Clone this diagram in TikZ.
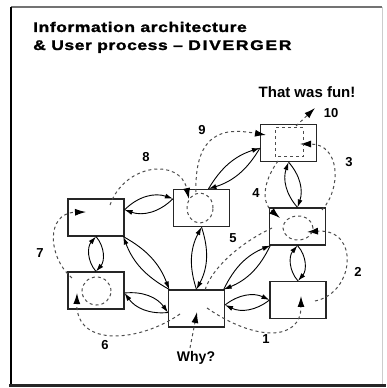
\documentclass[tikz,border=0pt]{standalone}
\usepackage{fontspec}
\setmainfont{Liberation Sans}
\newfontfamily\headfont[FakeStretch=1.25,LetterSpace=4,FakeBold=1.5]{Liberation Sans}
\usetikzlibrary{arrows.meta}

\begin{document}
\begin{tikzpicture}[x=1pt,y=1pt,
    page/.style={draw=black!85,line width=1.1pt,minimum width=56pt,minimum height=37pt,inner sep=0pt},
    link/.style={line width=0.9pt,-{Latex[length=8pt,width=5pt]}},
    trail/.style={draw=black!70,line width=1pt,dash pattern=on 3pt off 3pt},
    headed/.style={-{Latex[length=11pt,width=7pt,black]}},
    num/.style={font=\bfseries\fontsize{13}{13}\selectfont}]

    \useasboundingbox (0,0) rectangle (386,388);

    % Frame
    \draw[black!55,line width=1.2pt] (11,381) -- (382,381);
    \draw[black!20,line width=0.8pt] (382,381) -- (382,4);
    \draw[black,line width=1.6pt] (11,381) -- (11,3);
    \draw[black!85,line width=3pt] (9,2) -- (386,2);

    % Title
    \node[anchor=base west,inner sep=0pt] (title1) at (33,356)
        {\headfont\bfseries\fontsize{14}{14}\selectfont Information architecture};
    \node[anchor=base west,inner sep=0pt] (title2) at (33,338)
        {\headfont\bfseries\fontsize{14}{14}\selectfont \& User process – {\addfontfeature{LetterSpace=12}DIVERGER}};

    % Pages
    \node[page] (pA) at (288.5,245) {};
    \node[page] (pB) at (297.5,161.5) {};
    \node[page] (pC) at (298,88) {};
    \node[page] (pD) at (196.5,79.5) {};
    \node[page] (pE) at (96,97.5) {};
    \node[page] (pF) at (96,170.5) {};
    \node[page] (pG) at (201.5,180) {};

    % Two-way links between pages
    \foreach \a/\b/\k in {pF.15/pG.162/32, pF.south/pE.north/41, pF.-35/pD.145/20,
                          pE.-5/pD.188/30, pG.south/pD.north/23, pG.70/pA.190/21,
                          pD.35/pB.215/21, pD.7/pC.180/32, pA.south/pB.north/30,
                          pB.south/pC.north/41}{
        \draw[link] (\a) to[bend left=\k] (\b);
        \draw[link] (\b) to[bend left=\k] (\a);
    }

    % Labels
    \node[font=\bfseries\fontsize{14}{14}\selectfont] (why) at (196,30) {Why?};
    \node[font=\bfseries\fontsize{15}{15}\selectfont,anchor=base] (fun) at (307,290) {That was fun!};
    \node[num] (n1) at (266,49) {1};
    \node[num] (n2) at (358,116) {2};
    \node[num] (n3) at (349,226) {3};
    \node[num] (n4) at (256,195) {4};
    \node[num] (n5) at (233,150) {5};
    \node[num] (n6) at (105,43) {6};
    \node[num] (n7) at (40,135) {7};
    \node[num] (n8) at (146,231) {8};
    \node[num] (n9) at (202,258) {9};
    \node[num] (n10) at (331,275) {10};

    % User process
    \coordinate (wD) at (197,76);
    \coordinate (oD1) at (207,80);  \coordinate (wC) at (301,92);
    \coordinate (oC) at (315,87);   \coordinate (wB2) at (307,156);
    \coordinate (oB3) at (322,178); \coordinate (wA3) at (300,244);
    \coordinate (oA4) at (278,227); \coordinate (wB4) at (280,170);
    \coordinate (oB5) at (272,160); \coordinate (wD5) at (205,98);
    \coordinate (oD6) at (180,74);  \coordinate (wE) at (77,95);
    \coordinate (oE) at (72,110);   \coordinate (wF) at (86,176);
    \coordinate (oF) at (110,183);  \coordinate (wG) at (189,189);
    \coordinate (oG) at (196,196);  \coordinate (wA9) at (266,253);
    \coordinate (oA) at (296,262);  \coordinate (exit) at (315,280);

    \draw[trail,headed] ([xshift=-6pt]why.north) -- (wD);
    \draw[trail,headed] (oD1) .. controls (256,46) and (301,47) .. (wC);
    \draw[trail,headed] (oC) .. controls (355,95) and (360,160) .. (wB2);
    \draw[trail,headed] (oB3) .. controls (342,200) and (340,244) .. (wA3);
    \draw[trail,headed] (oA4) .. controls (262,205) and (262,185) .. (wB4);
    \draw[trail] (oB5) .. controls (240,145) and (212,120) .. (wD5);
    \draw[trail,headed] (oD6) .. controls (140,46) and (76,40) .. (wE);
    \draw[trail,headed] (oE) .. controls (48,130) and (45,175) .. (wF);
    \draw[trail,headed] (oF) .. controls (125,225) and (180,230) .. (wG);
    \draw[trail,headed] (oG) .. controls (194,265) and (235,258) .. (wA9);
    \draw[trail,headed] (oA) -- (exit);

    % Wandering inside pages
    \draw[trail] (96.5,97) ellipse (14.5 and 14);
    \draw[trail] (200,180) ellipse (13 and 15);
    \draw[trail] (298,160) ellipse (15 and 12);
    \draw[trail] (275,231) rectangle (303,260);
\end{tikzpicture}
\end{document}
